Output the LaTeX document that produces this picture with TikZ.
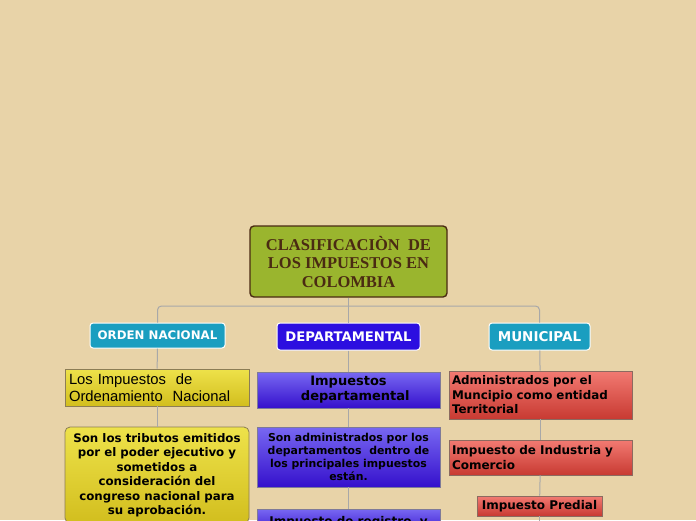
\documentclass[tikz,border=0pt]{standalone}
\usepackage{fontspec}
\newfontfamily\vfont{DejaVu Sans}
\newfontfamily\afont{Liberation Sans}
\newfontfamily\sfont{Liberation Serif}
\definecolor{bg}{HTML}{E8D3A8}
\definecolor{rootfill}{HTML}{9AB52E}
\definecolor{rootdark}{HTML}{4A2A12}
\definecolor{teal}{HTML}{1A9EC0}
\definecolor{deepblue}{HTML}{2C0FE0}
\definecolor{yeltop}{HTML}{EEE24A}
\definecolor{yelbot}{HTML}{D2BE1E}
\definecolor{yelline}{HTML}{8C7D55}
\definecolor{blutop}{HTML}{7868F2}
\definecolor{blubot}{HTML}{3510CC}
\definecolor{bluline}{HTML}{7E7A98}
\definecolor{redtop}{HTML}{F27A72}
\definecolor{redbot}{HTML}{C83A32}
\definecolor{redline}{HTML}{8C6A60}
\definecolor{connc}{HTML}{A8A8A8}
\tikzset{
  conn/.style={draw=connc, line width=1pt},
  rootbox/.style={draw=rootdark, fill=rootfill, line width=1.4pt, rounded corners=4pt,
    text=rootdark, font=\sfont\bfseries\fontsize{16.5}{18.5}\selectfont, align=center, inner sep=0pt},
  catbox/.style={draw=white, line width=1pt, rounded corners=3pt, text=white, inner sep=0pt},
  yelbox/.style={draw=yelline, line width=0.8pt, top color=yeltop, bottom color=yelbot, text=black, inner sep=0pt},
  blubox/.style={draw=bluline, line width=0.8pt, top color=blutop, bottom color=blubot, text=black, inner sep=0pt},
  redbox/.style={draw=redline, line width=0.8pt, top color=redtop, bottom color=redbot, text=black, inner sep=0pt},
}
\begin{document}
\begin{tikzpicture}[x=1pt,y=-1pt]
\useasboundingbox (0,0) rectangle (696,520);
\clip (0,0) rectangle (696,520);
\fill[bg] (0,0) rectangle (696,520);
% root
\node[rootbox, minimum width=197pt, minimum height=71pt] (root) at (348.5,261.5)
  {CLASIFICACIÒN\ \ DE\\LOS IMPUESTOS EN\\COLOMBIA};
% categories
\node[catbox, fill=teal, minimum width=135pt, minimum height=25pt,
  font=\vfont\bfseries\fontsize{11.8}{13}\selectfont] (on) at (157.5,335.5) {ORDEN NACIONAL};
\node[catbox, fill=deepblue, minimum width=143pt, minimum height=27pt,
  font=\vfont\bfseries\fontsize{13.2}{14}\selectfont] (dep) at (348.5,336.5) {DEPARTAMENTAL};
\node[catbox, fill=teal, minimum width=101pt, minimum height=27pt,
  font=\vfont\bfseries\fontsize{13.5}{14}\selectfont] (mun) at (539.5,336.5) {MUNICIPAL};
% left column
\node[yelbox, minimum width=184pt, minimum height=37pt, text width=176pt, align=left,
  font=\afont\fontsize{14.8}{16.5}\selectfont] (l1) at (157,387.5)
  {Los Impuestos\ \ de\\Ordenamiento\ \ Nacional};
\node[yelbox, rounded corners=5pt, minimum width=184pt, minimum height=96pt, align=center,
  font=\vfont\bfseries\fontsize{11.8}{14.5}\selectfont] (l2) at (157,475)
  {Son los tributos emitidos\\por el poder ejecutivo y\\sometidos a\\consideración del\\congreso nacional para\\su aprobación.};
% middle column
\node[blubox, minimum width=183pt, minimum height=36pt, align=center,
  font=\vfont\bfseries\fontsize{13}{15}\selectfont] (m1) at (348.5,390)
  {Impuestos\\\ \ \ departamental};
\node[blubox, minimum width=183pt, minimum height=60pt, align=center,
  font=\vfont\bfseries\fontsize{10.9}{13}\selectfont] (m2) at (348.5,457)
  {Son administrados por los\\departamentos\ \ dentro de\\los principales impuestos\\están.};
\node[blubox, minimum width=183pt, minimum height=26pt, align=center,
  font=\vfont\bfseries\fontsize{12}{14}\selectfont] (m3) at (348.5,522)
  {Impuesto de registro\ \ y};
% right column
\node[redbox, minimum width=183pt, minimum height=48pt, text width=177pt, align=left,
  font=\vfont\bfseries\fontsize{11.9}{14.5}\selectfont] (r1) at (540.5,395)
  {Administrados por el\\Muncipio como entidad\\Territorial};
\node[redbox, minimum width=183pt, minimum height=35pt, text width=177pt, align=left,
  font=\vfont\bfseries\fontsize{12}{14.5}\selectfont] (r2) at (540.5,457.5)
  {Impuesto de Industria y\\Comercio};
\node[redbox, minimum width=125pt, minimum height=20pt, align=center,
  font=\vfont\bfseries\fontsize{12}{13}\selectfont] (r3) at (539.5,506)
  {Impuesto Predial};
\coordinate (j) at (348.5,306);
\coordinate (rend) at (539.5,530);
% connectors
\draw[conn] (root) -- (j);
\draw[conn] (j) -- (dep);
\draw[conn, rounded corners=4pt] (j) -| (on);
\draw[conn, rounded corners=4pt] (j) -| (mun);
\draw[conn] (on) -- (l1);
\draw[conn] (l1) -- (l2);
\draw[conn] (dep) -- (m1);
\draw[conn] (m1) -- (m2);
\draw[conn] (m2) -- (m3);
\draw[conn] (mun) -- (r1);
\draw[conn] (r1) -- (r2);
\draw[conn] (r2) -- (r3);
\draw[conn] (r3) -- (rend);
\end{tikzpicture}
\end{document}
